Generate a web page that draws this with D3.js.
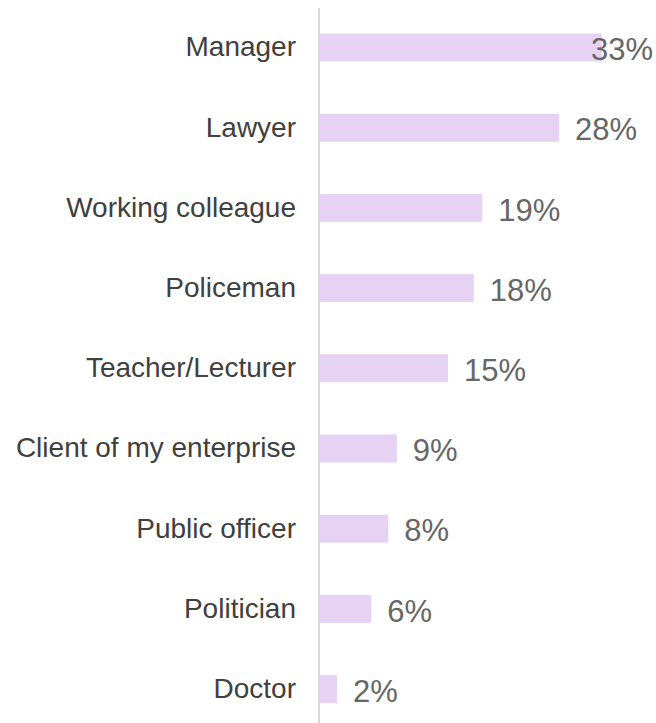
<!DOCTYPE html>
<html>
<head>
<meta charset="utf-8">
<script src="https://cdn.jsdelivr.net/npm/d3@7"></script>
<style>
  html, body { margin: 0; padding: 0; background: #ffffff; }
  svg { display: block; }
  text { font-family: "Liberation Sans", Arial, sans-serif; }
</style>
</head>
<body>
<div id="chart"></div>
<script>
// Share of respondents by occupation (percent)
const categories = [
  "Manager",
  "Lawyer",
  "Working colleague",
  "Policeman",
  "Teacher/Lecturer",
  "Client of my enterprise",
  "Public officer",
  "Politician",
  "Doctor"
];
const values = [33, 28, 19, 18, 15, 9, 8, 6, 2];
const valueLabels = ["33%", "28%", "19%", "18%", "15%", "9%", "8%", "6%", "2%"];

const width = 656, height = 723;
const axisX = 319;          // category axis line
const barStart = 320;
const pxPerPct = 8.54;
const bandTop = 7.4, step = 80.2;

const svg = d3.select("#chart").append("svg")
  .attr("width", width)
  .attr("height", height);

const x = d3.scaleLinear()
  .domain([0, 1])
  .range([barStart, barStart + pxPerPct]);

const y = d3.scaleBand()
  .domain(categories)
  .range([bandTop, bandTop + step * categories.length])
  .paddingInner(0.651)
  .paddingOuter(0.3255);

const rows = categories.map((c, i) => ({ c, v: values[i], label: valueLabels[i] }));

// bars
svg.append("g").selectAll("rect")
  .data(rows)
  .join("rect")
  .attr("x", x(0))
  .attr("y", d => y(d.c))
  .attr("width", d => x(d.v) - x(0))
  .attr("height", y.bandwidth())
  .attr("fill", "#e6d2f3");

// vertical category axis line
svg.append("line")
  .attr("x1", axisX).attr("x2", axisX)
  .attr("y1", 8).attr("y2", height)
  .attr("stroke", "#d9d9d9")
  .attr("stroke-width", 2);

// category labels
svg.append("g").selectAll("text")
  .data(rows)
  .join("text")
  .attr("x", 296)
  .attr("y", d => y(d.c) + y.bandwidth() / 2)
  .attr("dy", "0.32em")
  .attr("text-anchor", "end")
  .attr("font-size", 28)
  .attr("fill", "#404040")
  .text(d => d.c);

// value labels, kept inside the right edge
const rightLimit = 653;
svg.append("g").selectAll("text")
  .data(rows)
  .join("text")
  .attr("y", d => y(d.c) + y.bandwidth() / 2)
  .attr("dy", "0.41em")
  .attr("font-size", 31)
  .attr("fill", "#666666")
  .text(d => d.label)
  .attr("x", function(d) {
    const w = this.getComputedTextLength();
    return Math.min(x(d.v) + 16, rightLimit - w);
  });
</script>
</body>
</html>
